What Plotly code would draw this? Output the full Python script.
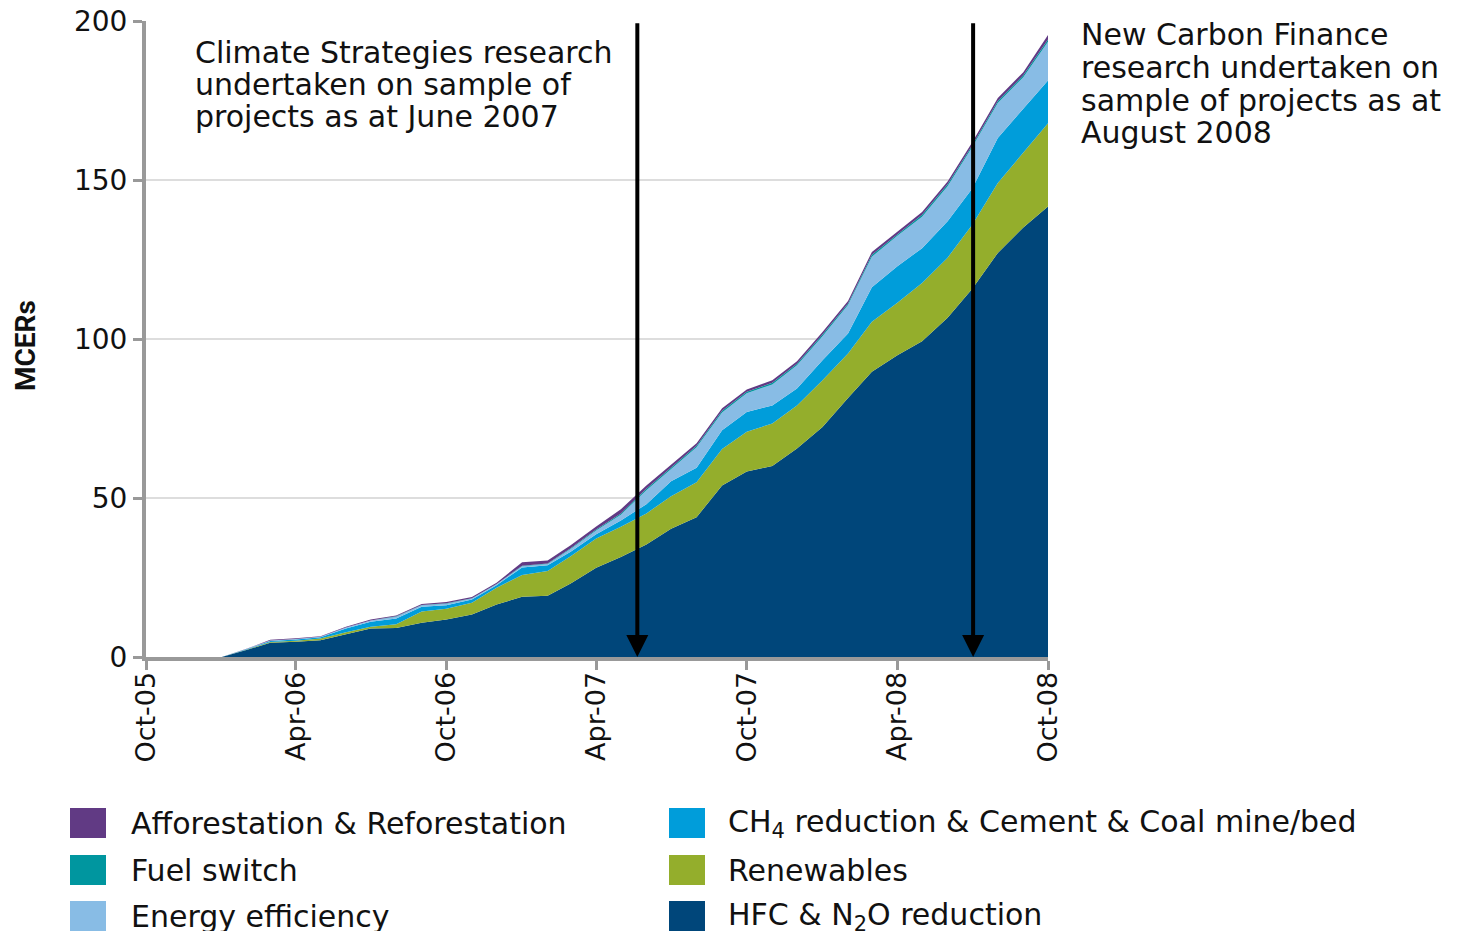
import plotly.graph_objects as go

# ---------------- data ----------------
months = [
    "2005-10-01", "2005-11-01", "2005-12-01", "2006-01-01", "2006-02-01", "2006-03-01",
    "2006-04-01", "2006-05-01", "2006-06-01", "2006-07-01", "2006-08-01", "2006-09-01",
    "2006-10-01", "2006-11-01", "2006-12-01", "2007-01-01", "2007-02-01", "2007-03-01",
    "2007-04-01", "2007-05-01", "2007-06-01", "2007-07-01", "2007-08-01", "2007-09-01",
    "2007-10-01", "2007-11-01", "2007-12-01", "2008-01-01", "2008-02-01", "2008-03-01",
    "2008-04-01", "2008-05-01", "2008-06-01", "2008-07-01", "2008-08-01", "2008-09-01",
    "2008-10-01",
]
tick_months = ["2005-10-01", "2006-04-01", "2006-10-01", "2007-04-01",
               "2007-10-01", "2008-04-01", "2008-10-01"]
tick_labels = ["Oct-05", "Apr-06", "Oct-06", "Apr-07", "Oct-07", "Apr-08", "Oct-08"]
y_ticks = [0, 50, 100, 150, 200]

hfc_n2o = [0, 0, 0, 0, 2.3, 4.5, 4.8, 5.3, 7.2, 9.0, 9.1, 10.8, 11.8, 13.4, 16.5, 19.0,
           19.3, 23.1, 28.1, 31.5, 35.4, 40.4, 44.0, 54.0, 58.4, 60.1, 65.6, 72.4, 81.5,
           89.8, 95.0, 99.4, 106.8, 115.9, 127.2, 135.2, 141.8]
renewables = [0, 0, 0, 0, 0.1, 0.2, 0.3, 0.5, 0.6, 0.5, 1.2, 3.5, 3.4, 3.7, 5.3, 6.8,
              7.8, 8.6, 9.2, 9.5, 9.8, 10.2, 11.0, 11.5, 12.5, 13.4, 13.6, 14.7, 14.0,
              15.7, 16.5, 18.3, 18.9, 20.2, 22.0, 23.7, 26.2]
ch4_cement_coal = [0, 0, 0, 0, 0.1, 0.3, 0.4, 0.4, 1.2, 1.6, 1.8, 1.5, 1.1, 1.0, 0.8, 2.4,
                   1.8, 1.4, 1.3, 2.0, 2.9, 4.7, 4.6, 5.9, 6.2, 5.7, 5.3, 6.3, 6.3,
                   10.9, 11.5, 11.0, 11.5, 11.4, 14.2, 13.6, 13.5]
energy_eff = [0, 0, 0, 0, 0.1, 0.2, 0.2, 0.2, 0.3, 0.4, 0.6, 0.5, 0.5, 0.3, 0.3, 0.4,
              0.4, 0.9, 1.2, 1.8, 4.4, 3.9, 6.4, 5.6, 5.9, 6.6, 7.3, 7.6, 9.0,
              9.6, 9.6, 9.9, 11.0, 13.0, 11.0, 10.0, 12.2]
fuel_switch = [0, 0, 0, 0, 0, 0, 0, 0, 0, 0, 0.1, 0.1, 0.1, 0.1, 0.1, 0.1,
               0.1, 0.2, 0.3, 0.4, 0.5, 0.5, 0.5, 0.5, 0.5, 0.5, 0.5, 0.5, 0.5,
               0.6, 0.5, 0.6, 0.6, 0.6, 0.6, 0.6, 0.7]
aff_refor = [0, 0, 0, 0, 0.1, 0.2, 0.2, 0.1, 0.2, 0.3, 0.3, 0.3, 0.4, 0.4, 0.4, 1.1,
             1.0, 1.0, 1.0, 1.3, 1.0, 0.9, 0.8, 0.8, 0.7, 0.8, 0.8, 0.8, 0.8,
             0.9, 0.9, 0.9, 0.9, 0.9, 1.0, 1.0, 1.4]

series_names = ["HFC & N<sub>2</sub>O reduction", "Renewables",
                "CH<sub>4</sub> reduction & Cement & Coal mine/bed",
                "Energy efficiency", "Fuel switch", "Afforestation & Reforestation"]
series_values = [hfc_n2o, renewables, ch4_cement_coal, energy_eff, fuel_switch, aff_refor]
series_colors = ["#00467A", "#94AE2C", "#009DDA", "#88BCE5", "#00969F", "#613A84"]

arrow_dates = ["2007-05-21", "2008-07-02"]
note_left = ["Climate Strategies research", "undertaken on sample of",
             "projects as at June 2007"]
note_right = ["New Carbon Finance", "research undertaken on",
              "sample of projects as at", "August 2008"]

# ---------------- layout geometry (page pixels) ----------------
PAGE_OFF = 8                      # default body margin of the html page
W, H = 1457 - PAGE_OFF, 931 - PAGE_OFF
PL, PR, PT, PB = 146, 1048, 21, 657   # plot area in page pixels
FONT = "DejaVu Sans"


def px(x):
    return (x - PL) / (PR - PL)


def py(y):
    return (PB - y) / (PB - PT)


fig = go.Figure()
for name, vals, col in zip(series_names, series_values, series_colors):
    fig.add_trace(go.Scatter(
        x=months, y=vals, name=name, mode="lines", stackgroup="one",
        line=dict(width=0, color=col), fillcolor=col, showlegend=False,
        hoverinfo="x+y+name",
    ))

annotations = []
shapes = []

# arrows
for d in arrow_dates:
    annotations.append(dict(
        x=d, y=0, ax=d, ay=y_ticks[-1], xref="x", yref="y", axref="x", ayref="y",
        text="", showarrow=True, arrowhead=2, arrowsize=1.1, arrowwidth=4,
        arrowcolor="#000000", standoff=0,
    ))

# notes
for i, t in enumerate(note_left):
    annotations.append(dict(
        x=px(193), y=py(52 + 32.5 * i), xref="paper", yref="paper", text=t,
        showarrow=False, xanchor="left", yanchor="middle",
        font=dict(family=FONT, size=30, color="#111111"),
    ))
for i, t in enumerate(note_right):
    annotations.append(dict(
        x=px(1079), y=py(35 + 32.5 * i), xref="paper", yref="paper", text=t,
        showarrow=False, xanchor="left", yanchor="middle",
        font=dict(family=FONT, size=30, color="#111111"),
    ))

# y axis title
annotations.append(dict(
    x=px(25), y=py(345), xref="paper", yref="paper", text="<b>MCERs</b>",
    textangle=-90, showarrow=False, xanchor="center", yanchor="middle",
    font=dict(family="Liberation Sans Narrow, Arial Narrow, Roboto", size=28,
              color="#111111"),
))

# legend (two columns, three rows)
legend_order = [5, 4, 3, 2, 1, 0]  # left column top->bottom, then right column
col_sw_x = [70, 669]
col_tx_x = [129, 726]
row_top = [808, 855, 901]
for k, idx in enumerate(legend_order):
    c, r = divmod(k, 3)
    shapes.append(dict(
        type="rect", xref="paper", yref="paper",
        x0=px(col_sw_x[c]), x1=px(col_sw_x[c] + 36),
        y0=py(row_top[r]), y1=py(row_top[r] + 30),
        fillcolor=series_colors[idx], line=dict(width=0),
    ))
    annotations.append(dict(
        x=px(col_tx_x[c]), y=py(row_top[r] + 15), xref="paper", yref="paper",
        text=series_names[idx], showarrow=False, xanchor="left", yanchor="middle",
        font=dict(family=FONT, size=30, color="#111111"),
    ))

fig.update_layout(
    width=W, height=H,
    margin=dict(l=PL - PAGE_OFF, r=W - (PR - PAGE_OFF), t=PT - PAGE_OFF,
                b=H - (PB - PAGE_OFF), autoexpand=False),
    paper_bgcolor="white", plot_bgcolor="white",
    showlegend=False,
    annotations=annotations, shapes=shapes,
    xaxis=dict(
        type="date", range=[months[0], months[-1]],
        tickmode="array", tickvals=tick_months, ticktext=tick_labels,
        tickangle=-90, ticks="outside", ticklen=9, tickwidth=3, tickcolor="#999999",
        ticklabelstandoff=-9, ticklabeloverflow="allow",
        showline=True, linecolor="#999999", linewidth=4,
        showgrid=False, zeroline=False,
        tickfont=dict(family=FONT, size=27, color="#111111"),
    ),
    yaxis=dict(
        range=[0, 200.2], tickmode="array", tickvals=y_ticks,
        ticks="outside", ticklen=9, tickwidth=3, tickcolor="#999999",
        ticklabeloverflow="allow",
        showline=True, linecolor="#999999", linewidth=4,
        showgrid=True, gridcolor="#dddddd", gridwidth=2, zeroline=False,
        tickfont=dict(family=FONT, size=28, color="#111111"),
    ),
)

fig.write_html("out.html")
